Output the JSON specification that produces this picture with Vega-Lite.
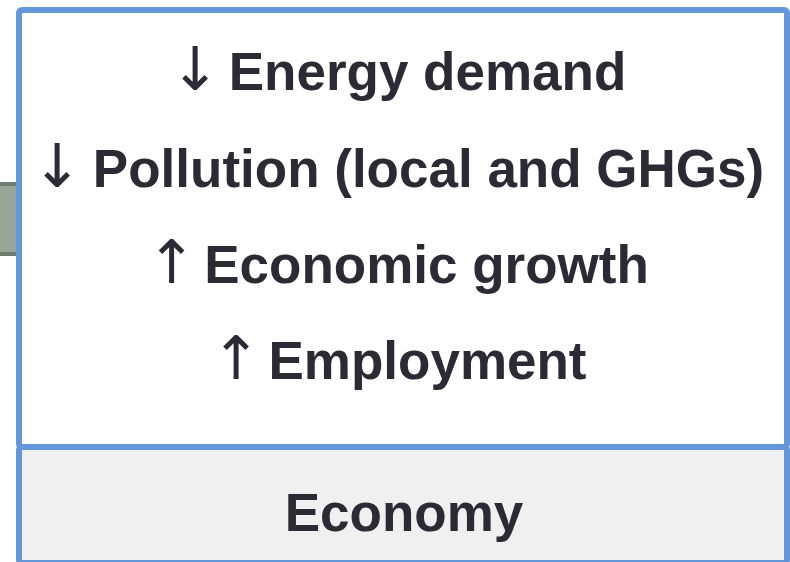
{
  "$schema": "https://vega.github.io/schema/vega-lite/v6.json",
  "width": 790,
  "height": 562,
  "autosize": {"type": "fit", "contains": "padding"},
  "padding": 0,
  "background": "white",
  "config": {"view": {"stroke": null}},
  "datasets": {
    "tab": [
      {"name": "tab_edge", "x0": -5, "x1": 16, "y0": 182, "y1": 256, "fill": "#6f7c70"},
      {"name": "tab_fill", "x0": -5, "x1": 16, "y0": 186, "y1": 252, "fill": "#98a698"}
    ],
    "boxes": [
      {"name": "upper", "x0": 19, "x1": 787, "y0": 10, "y1": 447, "fill": "#ffffff"},
      {"name": "lower", "x0": 19, "x1": 787, "y0": 447, "y1": 563, "fill": "#f0f0f0"}
    ],
    "labels": [
      {"label": "Energy demand", "x": 427.5, "y": 90, "size": 53},
      {"label": "Pollution (local and GHGs)", "x": 428.5, "y": 187, "size": 53},
      {"label": "Economic growth", "x": 426.5, "y": 283, "size": 53},
      {"label": "Employment", "x": 427.5, "y": 379, "size": 53},
      {"label": "Economy", "x": 404, "y": 531, "size": 53}
    ],
    "arrows": [
      {"label": "↓", "x": 195, "y": 90},
      {"label": "↓", "x": 57, "y": 187},
      {"label": "↑", "x": 171.5, "y": 283},
      {"label": "↑", "x": 236, "y": 379}
    ]
  },
  "layer": [
    {
      "data": {"name": "tab"},
      "mark": {"type": "rect", "clip": true},
      "encoding": {
        "x": {"field": "x0", "type": "quantitative", "scale": {"domain": [0, 790], "nice": false, "zero": false}, "axis": null},
        "x2": {"field": "x1"},
        "y": {"field": "y0", "type": "quantitative", "scale": {"domain": [0, 562], "nice": false, "zero": false, "reverse": true}, "axis": null},
        "y2": {"field": "y1"},
        "fill": {"field": "fill", "type": "nominal", "scale": null, "legend": null}
      }
    },
    {
      "data": {"name": "boxes"},
      "mark": {"type": "rect", "strokeWidth": 6, "cornerRadius": 3, "stroke": "#6497d9", "clip": true},
      "encoding": {
        "x": {"field": "x0", "type": "quantitative", "scale": {"domain": [0, 790], "nice": false, "zero": false}, "axis": null},
        "x2": {"field": "x1"},
        "y": {"field": "y0", "type": "quantitative", "scale": {"domain": [0, 562], "nice": false, "zero": false, "reverse": true}, "axis": null},
        "y2": {"field": "y1"},
        "fill": {"field": "fill", "type": "nominal", "scale": null, "legend": null}
      }
    },
    {
      "data": {"name": "labels"},
      "mark": {"type": "text", "font": "Liberation Sans", "fontWeight": "bold", "align": "center", "baseline": "alphabetic", "color": "#2b2a35"},
      "encoding": {
        "x": {"field": "x", "type": "quantitative", "scale": {"domain": [0, 790], "nice": false, "zero": false}, "axis": null},
        "y": {"field": "y", "type": "quantitative", "scale": {"domain": [0, 562], "nice": false, "zero": false, "reverse": true}, "axis": null},
        "text": {"field": "label"},
        "size": {"field": "size", "type": "quantitative", "scale": null}
      }
    },
    {
      "data": {"name": "arrows"},
      "mark": {"type": "text", "font": "DejaVu Sans", "fontSize": 60, "align": "center", "baseline": "alphabetic", "color": "#2b2a35"},
      "encoding": {
        "x": {"field": "x", "type": "quantitative", "scale": {"domain": [0, 790], "nice": false, "zero": false}, "axis": null},
        "y": {"field": "y", "type": "quantitative", "scale": {"domain": [0, 562], "nice": false, "zero": false, "reverse": true}, "axis": null},
        "text": {"field": "label"}
      }
    }
  ]
}
